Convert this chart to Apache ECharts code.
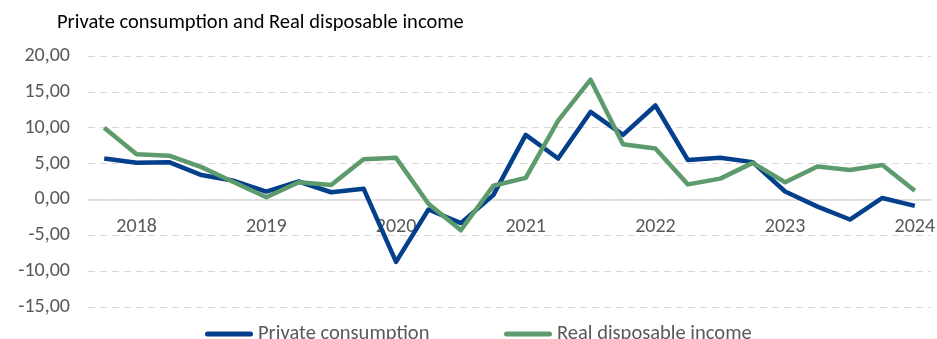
<!DOCTYPE html>
<html>
<head>
<meta charset="utf-8">
<script src="https://cdn.jsdelivr.net/npm/echarts@6/dist/echarts.min.js"></script>
<style>
  html, body { margin: 0; padding: 0; background: #fff; }
  #chart { width: 937px; height: 339px; }
</style>
</head>
<body>
<div id="chart"></div>
<script>
// Quarterly observations, 2017Q4 to 2024Q1 (year-on-year change, %)
const quarters = [
  '2017Q4',
  '2018Q1', '2018Q2', '2018Q3', '2018Q4',
  '2019Q1', '2019Q2', '2019Q3', '2019Q4',
  '2020Q1', '2020Q2', '2020Q3', '2020Q4',
  '2021Q1', '2021Q2', '2021Q3', '2021Q4',
  '2022Q1', '2022Q2', '2022Q3', '2022Q4',
  '2023Q1', '2023Q2', '2023Q3', '2023Q4',
  '2024Q1'
];
const privateConsumption = [
  5.7,
  5.1, 5.2, 3.4, 2.6,
  1.1, 2.5, 1.0, 1.5,
  -8.7, -1.4, -3.3, 0.6,
  9.0, 5.7, 12.2, 9.0,
  13.1, 5.5, 5.8, 5.2,
  1.1, -1.0, -2.8, 0.2,
  -0.9
];
const realDisposableIncome = [
  10.0,
  6.3, 6.1, 4.5, 2.4,
  0.3, 2.4, 2.0, 5.6,
  5.8, -0.6, -4.3, 1.9,
  3.0, 11.0, 16.7, 7.7,
  7.1, 2.1, 2.9, 5.1,
  2.4, 4.6, 4.1, 4.8,
  1.2
];
const yTicks = { min: -15, max: 20, step: 5 };
const seriesNames = ['Private consumption', 'Real disposable income'];
const seriesColors = ['#033f8b', '#5e9b6c'];

const FONT = 'Carlito, Lato, sans-serif';
const TEXT = '#595959';
const W = 937, H = 339;
const GRID = { left: 88, right: 6, top: 56, bottom: 32 };

// Place the category axis (line and year labels) on the zero line of the value axis
const plotHeight = H - GRID.top - GRID.bottom;
const zeroOffset = -((0 - yTicks.min) / (yTicks.max - yTicks.min)) * plotHeight;

// Legend key: a thick line with rounded ends
const keyIcon = 'path://M2.5,0 H45.5 A2.5,2.5 0 0 1 45.5,5 H2.5 A2.5,2.5 0 0 1 2.5,0 Z';
const legendBase = {
  top: 323.5,
  padding: 0,
  itemWidth: 48,
  itemHeight: 5,
  textStyle: { fontFamily: FONT, fontSize: 20.5, color: TEXT }
};

const chart = echarts.init(document.getElementById('chart'), null, { renderer: 'canvas' });
chart.setOption({
  animation: false,
  backgroundColor: '#ffffff',
  title: {
    text: 'Private consumption and Real disposable income',
    left: 57,
    top: 12,
    padding: 0,
    textStyle: { fontFamily: FONT, fontSize: 20.5, fontWeight: 'normal', color: '#000000' }
  },
  legend: [
    Object.assign({ left: 205, data: [{ name: seriesNames[0], icon: keyIcon }] }, legendBase),
    Object.assign({ left: 504, data: [{ name: seriesNames[1], icon: keyIcon }] }, legendBase)
  ],
  grid: Object.assign({ outerBoundsMode: 'none', containLabel: false }, GRID),
  xAxis: {
    type: 'category',
    data: quarters,
    boundaryGap: true,
    position: 'bottom',
    offset: zeroOffset,
    axisLine: { onZero: false, lineStyle: { color: '#d9d9d9', width: 1.5 } },
    axisTick: { show: false },
    axisLabel: {
      interval: (i, v) => v.endsWith('Q1'),
      formatter: v => v.slice(0, 4),
      margin: 18,
      fontFamily: FONT,
      fontSize: 20,
      color: TEXT
    },
    splitLine: { show: false }
  },
  yAxis: {
    type: 'value',
    min: yTicks.min,
    max: yTicks.max,
    interval: yTicks.step,
    axisLine: { show: false },
    axisTick: { show: false },
    axisLabel: {
      margin: 18,
      fontFamily: FONT,
      fontSize: 20,
      color: TEXT,
      formatter: v => v.toFixed(2).replace('.', ',')
    },
    splitLine: { lineStyle: { color: '#d9d9d9', type: [7, 5], width: 1.2 } }
  },
  series: [
    {
      name: seriesNames[0],
      type: 'line',
      data: privateConsumption,
      symbol: 'none',
      color: seriesColors[0],
      lineStyle: { width: 4.5, join: 'round' }
    },
    {
      name: seriesNames[1],
      type: 'line',
      data: realDisposableIncome,
      symbol: 'none',
      color: seriesColors[1],
      lineStyle: { width: 4.5, join: 'round' }
    }
  ]
});
</script>
</body>
</html>
